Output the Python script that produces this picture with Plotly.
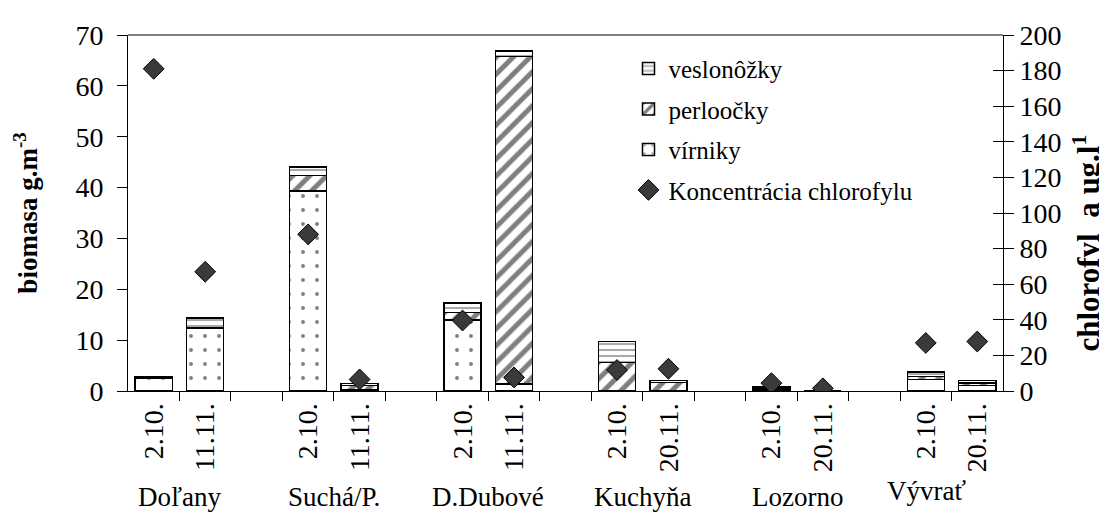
import plotly.graph_objects as go

# ---- data ----
locations = ["Doľany", "Suchá/P.", "D.Dubové", "Kuchyňa", "Lozorno", "Vývrať"]
dates = ["2.10.", "11.11.", "2.10.", "11.11.", "2.10.", "11.11.",
         "2.10.", "20.11.", "2.10.", "20.11.", "2.10.", "20.11."]
virniky = [2.5, 12.3, 39.3, 0.3, 14.0, 1.4, 0.0, 0.0, 0.2, 0.0, 2.3, 1.1]
perloocky = [0.1, 0.1, 3.1, 0.8, 1.4, 64.4, 5.6, 1.7, 0.3, 0.0, 0.6, 0.5]
veslonozky = [0.2, 2.0, 1.6, 0.4, 1.9, 1.1, 4.1, 0.4, 0.3, 0.0, 0.8, 0.5]
chlorofyl = [181, 67, 88, 6.5, 39.6, 7.6, 11.8, 12.5, 4.4, 1.5, 27, 27.8]

# category slot positions: two dates per location, one empty slot between groups
xpos = [3 * g + k for g in range(len(locations)) for k in (0, 1)]
group_centers = [3 * g + 0.5 for g in range(len(locations))]
boundaries = [i + 0.5 for i in range(16)]

FONT = "Liberation Serif"
BAR_LINE = dict(color="black", width=1.5)

fig = go.Figure()
fig.add_trace(go.Bar(
    x=xpos, y=virniky, name="vírniky", width=0.72, legendgroup="g3",
    marker=dict(color="white", line=BAR_LINE,
                pattern=dict(shape=".", fgcolor="black", bgcolor="white",
                             size=14, solidity=0.06)),
    legendrank=3))
fig.add_trace(go.Bar(
    x=xpos, y=perloocky, name="perloočky", width=0.72, legendgroup="g2",
    marker=dict(color="white", line=BAR_LINE,
                pattern=dict(shape="/", fgcolor="black", bgcolor="white",
                             size=12, solidity=0.42)),
    legendrank=2))
fig.add_trace(go.Bar(
    x=xpos, y=veslonozky, name="veslonôžky", width=0.72, legendgroup="g1",
    marker=dict(color="white", line=BAR_LINE,
                pattern=dict(shape="-", fgcolor="#555555", bgcolor="white",
                             size=6, solidity=0.35)),
    legendrank=1))
fig.add_trace(go.Scatter(
    x=xpos, y=chlorofyl, name="Koncentrácia chlorofylu", mode="markers",
    yaxis="y2", legendgroup="g4",
    marker=dict(symbol="diamond", size=16, color="#3a3a3a",
                line=dict(color="black", width=1)),
    legendrank=4))
# helper trace so the crossing-tick overlay axis is drawn
fig.add_trace(go.Scatter(x=[xpos[0]], y=[0], yaxis="y3", mode="markers",
                         marker=dict(opacity=0), showlegend=False,
                         hoverinfo="skip"))

fig.update_layout(
    width=1107, height=512,
    margin=dict(l=120, r=112, t=23, b=129),
    paper_bgcolor="white", plot_bgcolor="white",
    barmode="stack", bargap=0.28,
    font=dict(family=FONT, size=26, color="black"),
    showlegend=True,
    legend=dict(x=0.572, y=0.97, xanchor="left", yanchor="top",
                traceorder="grouped", tracegroupgap=5,
                font=dict(family=FONT, size=25), bgcolor="rgba(0,0,0,0)",
                itemwidth=30),
    xaxis=dict(range=[-0.5, 16.5], tickmode="array", tickvals=xpos,
               ticktext=dates, tickangle=-90, ticks="", ticklen=0,
               showgrid=False, zeroline=False, showline=True,
               linecolor="black", linewidth=1,
               tickfont=dict(family=FONT, size=28),
               minor=dict(tickmode="array", tickvals=boundaries,
                          ticks="outside", ticklen=9, tickcolor="black",
                          tickwidth=1, showgrid=False)),
    yaxis=dict(range=[0, 70], dtick=10, ticks="outside", ticklen=10,
               tickcolor="black", showgrid=False, zeroline=False,
               showline=True, linecolor="black", linewidth=1,
               ticklabelstandoff=8,
               tickfont=dict(family=FONT, size=28)),
    yaxis2=dict(range=[0, 200], dtick=20, overlaying="y", side="right",
                ticks="outside", ticklen=10, tickcolor="black",
                showgrid=False, zeroline=False, showline=True,
                linecolor="black", linewidth=1,
                tickfont=dict(family=FONT, size=28)),
    yaxis3=dict(range=[0, 200], dtick=20, overlaying="y", side="right",
                ticks="inside", ticklen=10, tickcolor="black",
                showticklabels=False, showgrid=False, zeroline=False,
                showline=False),
)

# top border of plot area
fig.add_shape(type="line", xref="paper", yref="paper", x0=0, x1=1, y0=1, y1=1,
              line=dict(color="#808080", width=2))

# axis titles
fig.add_annotation(text="<b>biomasa g.m<sup>-3</sup></b>", xref="paper",
                   yref="paper", x=-0.117, y=0.5, textangle=-90,
                   showarrow=False, font=dict(family=FONT, size=27),
                   xanchor="center", yanchor="middle")
fig.add_annotation(text="<b>chlorofyl_a ug.l<sup>1</sup></b>", xref="paper",
                   yref="paper", x=1.096, y=0.414, textangle=-90,
                   showarrow=False, font=dict(family=FONT, size=31),
                   xanchor="center", yanchor="middle")

# location labels under the date labels (last one sits a little left/higher)
label_dx = [0, 0, 0, 0, 0, -0.49]
label_y = [-0.297, -0.297, -0.297, -0.297, -0.297, -0.28]
for name, cx, dx, ly in zip(locations, group_centers, label_dx, label_y):
    fig.add_annotation(text=name, x=cx + dx, xref="x", yref="paper", y=ly,
                       yanchor="middle", showarrow=False,
                       font=dict(family=FONT, size=27))

fig.write_html("out.html")
